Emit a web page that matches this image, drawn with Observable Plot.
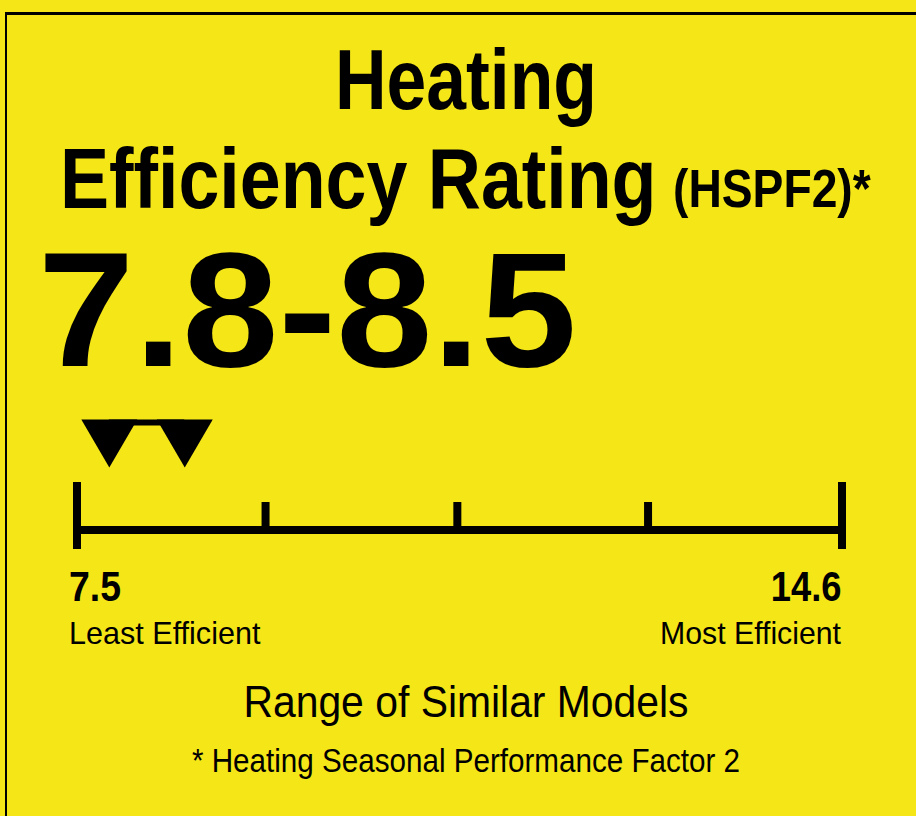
<!DOCTYPE html>
<html>
<head>
<meta charset="utf-8">
<script src="https://cdn.jsdelivr.net/npm/d3@7"></script>
<script src="https://cdn.jsdelivr.net/npm/@observablehq/plot@0.6"></script>
<style>
  html, body { margin: 0; padding: 0; }
  body {
    width: 916px; height: 816px; overflow: hidden; position: relative;
    background: #F5E618; color: #000;
    font-family: "Liberation Sans", Arial, sans-serif;
  }
  .frame { position: absolute; left: 5px; top: 12px; width: 960px; height: 900px;
           border-top: 3px solid #000; border-left: 2px solid #000; }
  .t { position: absolute; white-space: nowrap; line-height: 0.75; }
  #chart { position: absolute; left: 0; top: 400px; }
</style>
</head>
<body>
<div class="frame"></div>
<div id="titles"></div>
<div id="chart"></div>
<script>
// ---- data ----
const titleLine1 = "Heating";
const titleLine2 = "Efficiency Rating";
const titleUnit = "(HSPF2)*";
const subtitle = "Range of Similar Models";
const footnote = "* Heating Seasonal Performance Factor 2";

const scaleMin = 7.5;
const scaleMax = 14.6;
const endValues = [7.5, 14.6];
const endNumberLabels = ["7.5", "14.6"];
const endWordLabels = ["Least Efficient", "Most Efficient"];
const midTicks = [9.25, 11.03, 12.8];
const ratingRange = [7.8, 8.5];

// ---- HTML texts ----
const LH = 0.75;
const BASE = LH / 2 + 0.3465; // baseline offset (em) for Liberation Sans
function addText(str, o) {
  const d = document.createElement("div");
  d.className = "t";
  d.textContent = str;
  d.style.fontSize = o.size + "px";
  d.style.fontWeight = o.weight || "normal";
  d.style.top = (o.baseline - BASE * o.size) + "px";
  if (o.center != null) {
    d.style.left = (o.center - 1000) + "px";
    d.style.width = "2000px";
    d.style.textAlign = "center";
    d.style.transformOrigin = "1000px 50%";
  } else {
    d.style.left = o.left + "px";
    d.style.transformOrigin = "0 50%";
  }
  d.style.transform = `scaleX(${o.sx})`;
  document.getElementById("titles").appendChild(d);
}
addText(titleLine1, {size: 86, weight: "bold", baseline: 109, center: 466, sx: 0.831});
addText(titleLine2, {size: 86, weight: "bold", baseline: 208, left: 60, sx: 0.855});
addText(titleUnit, {size: 53, weight: "bold", baseline: 207, left: 673, sx: 0.872});
addText(`${ratingRange[0]}-${ratingRange[1]}`, {size: 164, weight: "bold", baseline: 366, left: 38, sx: 1.055});
addText(subtitle, {size: 45, baseline: 717, center: 465.5, sx: 0.908});
addText(footnote, {size: 33.5, baseline: 772, center: 466, sx: 0.884});

// ---- Plot chart (scale bar) ----
const triangleDown = {
  draw(context, size) {
    const r = Math.sqrt(size / Math.PI);
    context.moveTo(-1.4 * r, 0);
    context.lineTo(1.4 * r, 0);
    context.lineTo(0, 2.4 * r);
    context.closePath();
  }
};

const chart = Plot.plot({
  width: 916,
  height: 260,
  marginTop: 0, marginBottom: 0, marginLeft: 0, marginRight: 0,
  x: {domain: [scaleMin, scaleMax], range: [76.5, 841.5], axis: null},
  y: {domain: [400, 660], range: [0, 260], axis: null},
  style: {background: "transparent", fontFamily: "Liberation Sans, Arial, sans-serif", color: "black", overflow: "visible"},
  marks: [
    Plot.ruleY([scaleMin], {x1: scaleMin, x2: scaleMax, y: 529.5, stroke: "black", strokeWidth: 8}),
    Plot.ruleX(endValues, {x: d => d, y1: 482, y2: 549, stroke: "black", strokeWidth: 8}),
    Plot.ruleX(midTicks, {x: d => d, y1: 502, y2: 530, stroke: "black", strokeWidth: 8}),
    Plot.ruleY([ratingRange], {x1: d => d[0], x2: d => d[1], y: 422, stroke: "black", strokeWidth: 6}),
    Plot.dot(ratingRange, {x: d => d, y: 419, symbol: triangleDown, r: 20, fill: "black"}),
    Plot.text([0], {x: endValues[0], y: 600, text: () => endNumberLabels[0], textAnchor: "start", lineAnchor: "bottom", dx: -8, fontSize: 42, fontWeight: "bold", fill: "black"}),
    Plot.text([1], {x: endValues[1], y: 600, text: () => endNumberLabels[1], textAnchor: "end", lineAnchor: "bottom", dx: -0.5, fontSize: 42, fontWeight: "bold", fill: "black"}),
    Plot.text([0], {x: endValues[0], y: 643, text: () => endWordLabels[0], textAnchor: "start", lineAnchor: "bottom", dx: -8, fontSize: 32, fill: "black"}),
    Plot.text([1], {x: endValues[1], y: 643, text: () => endWordLabels[1], textAnchor: "end", lineAnchor: "bottom", dx: -1, fontSize: 32, fill: "black"})
  ]
});
document.getElementById("chart").appendChild(chart);

// horizontal condensing of the end labels
const squeeze = {"7.5": 0.89, "14.6": 0.865, "Least Efficient": 0.955, "Most Efficient": 0.945};
chart.querySelectorAll("text").forEach(t => {
  const k = squeeze[t.textContent];
  if (k) {
    const w = t.getComputedTextLength();
    t.setAttribute("textLength", (w * k).toFixed(1));
    t.setAttribute("lengthAdjust", "spacingAndGlyphs");
  }
});
</script>
</body>
</html>
